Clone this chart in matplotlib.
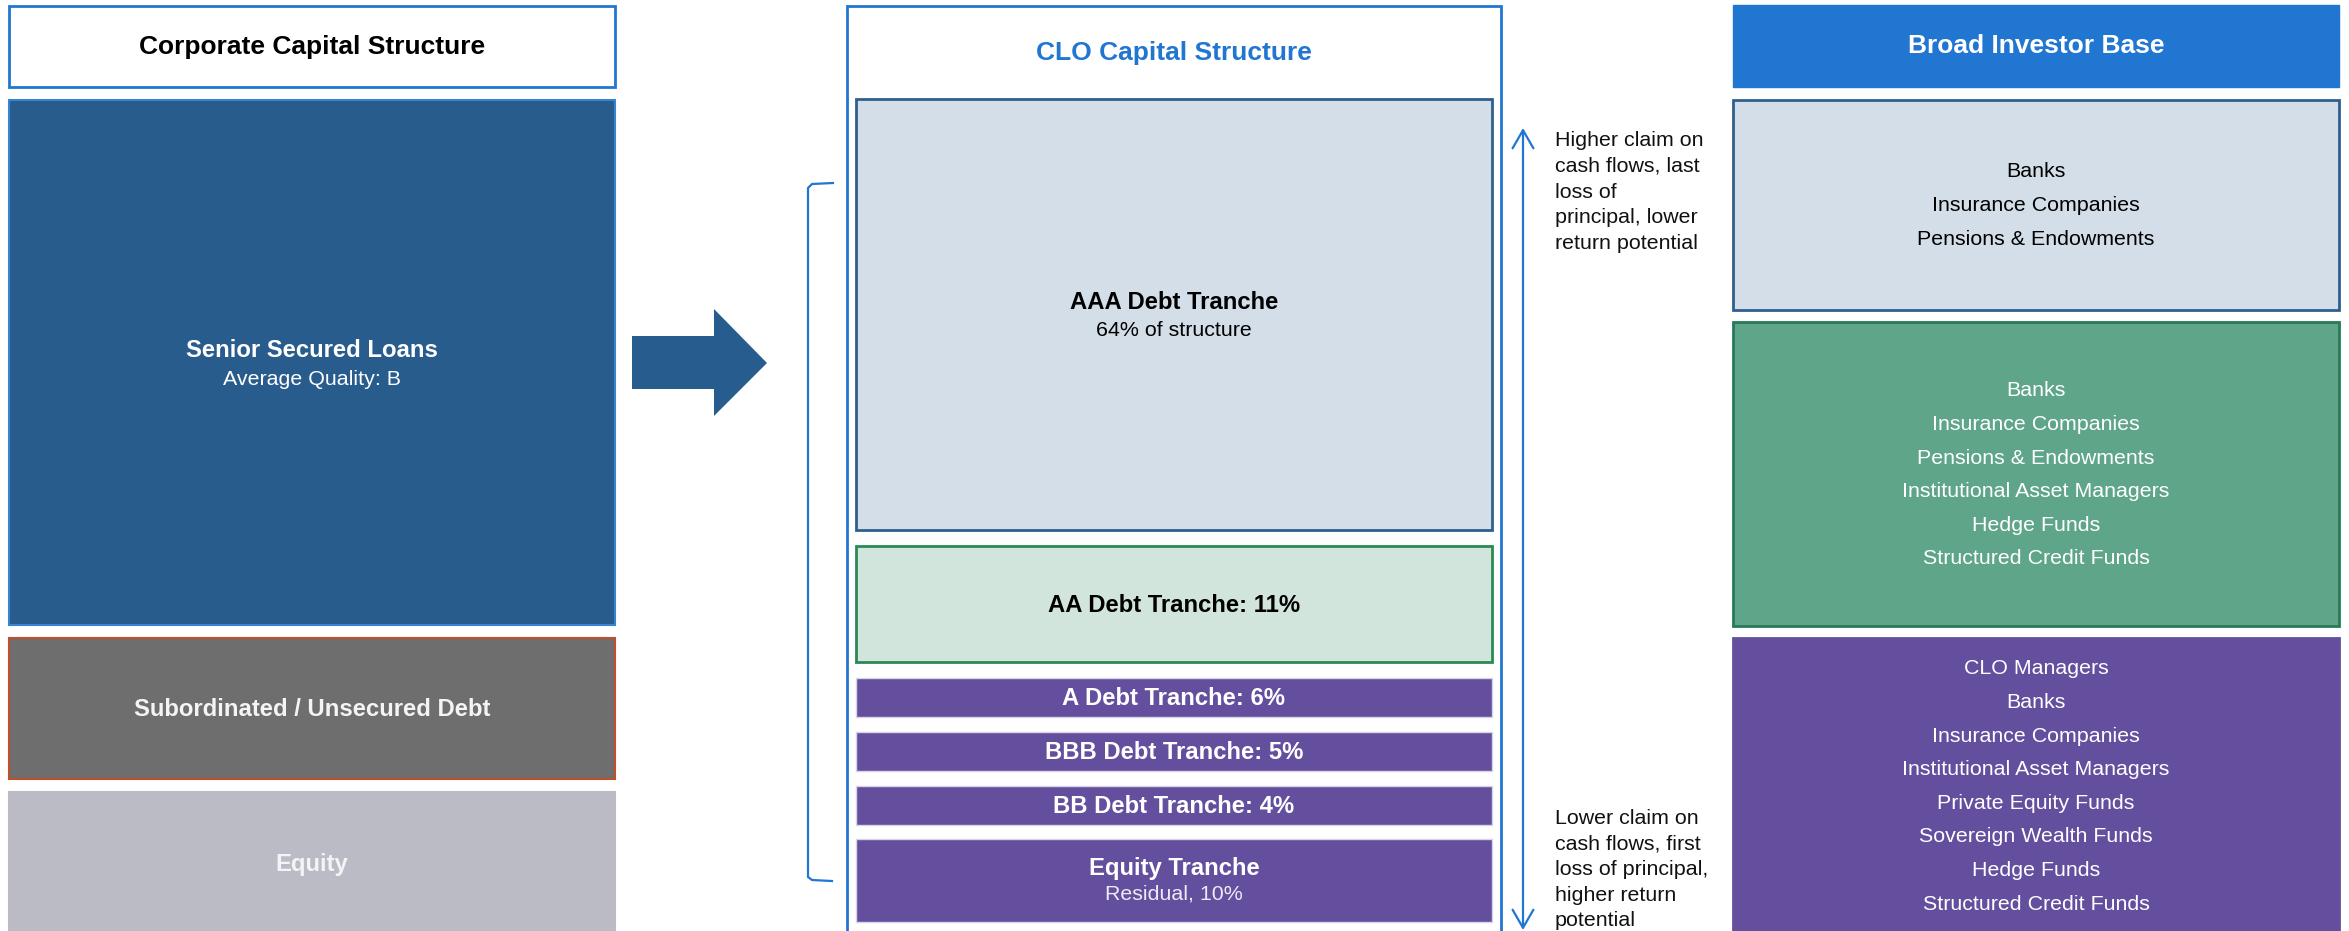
import matplotlib.pyplot as plt
from matplotlib.patches import Rectangle, Polygon

plt.rcParams['font.family'] = ['Liberation Sans', 'DejaVu Sans']

# --- data ---
corp_title = 'Corporate Capital Structure'
corp_layers = ['Senior Secured Loans', 'Subordinated / Unsecured Debt', 'Equity']
corp_notes = ['Average Quality: B', '', '']

clo_title = 'CLO Capital Structure'
tranche_names = ['AAA Debt Tranche', 'AA Debt Tranche', 'A Debt Tranche',
                 'BBB Debt Tranche', 'BB Debt Tranche', 'Equity Tranche']
tranche_pct = [64, 11, 6, 5, 4, 10]

investor_title = 'Broad Investor Base'
investors_senior = ['Banks', 'Insurance Companies', 'Pensions & Endowments']
investors_mezz = ['Banks', 'Insurance Companies', 'Pensions & Endowments',
                  'Institutional Asset Managers', 'Hedge Funds', 'Structured Credit Funds']
investors_junior = ['CLO Managers', 'Banks', 'Insurance Companies',
                    'Institutional Asset Managers', 'Private Equity Funds',
                    'Sovereign Wealth Funds', 'Hedge Funds', 'Structured Credit Funds']

top_note = ['Higher claim on', 'cash flows, last', 'loss of',
            'principal, lower', 'return potential']
bottom_note = ['Lower claim on', 'cash flows, first', 'loss of principal,',
               'higher return', 'potential']

# --- layout (pixel space, y down) ---
W, H = 2349, 931
BLUE = '#2176d2'
PURPLE = '#644e9e'

fig = plt.figure(figsize=(W / 100, H / 100), dpi=100)
ax = fig.add_axes([0, 0, 1, 1])
ax.set_xlim(0, W)
ax.set_ylim(H, 0)
ax.axis('off')

BIG = 19      # titles
LAB = 17.2    # bold box labels
TXT = 15.4    # regular text


def box(x0, x1, y0, y1, fc, ec, lw=1.5, z=2):
    ax.add_patch(Rectangle((x0, y0), x1 - x0, y1 - y0, facecolor=fc,
                           edgecolor=ec, linewidth=lw, zorder=z))


def stacked_lines(lines, cx, cy, step, color, size, ha='center'):
    n = len(lines)
    for i, s in enumerate(lines):
        ax.text(cx, cy + (i - (n - 1) / 2) * step, s, ha=ha, va='center',
                color=color, fontsize=size, zorder=5)


# left column: corporate capital structure
LX0, LX1 = 9, 615
lcx = (LX0 + LX1) / 2
box(LX0, LX1, 6, 87, 'white', BLUE, lw=2)
ax.text(lcx, 47, corp_title, ha='center', va='center', fontsize=BIG,
        fontweight='bold', color='black')

corp_spans = [(100, 625), (638, 779), (792, 945)]
corp_fc = ['#285c8d', '#6e6e6e', '#bbbbc6']
corp_ec = ['#3a82d4', '#c0502a', '#bbbbc6']
for name, note, (y0, y1), fc, ec in zip(corp_layers, corp_notes, corp_spans, corp_fc, corp_ec):
    box(LX0, LX1, y0, y1, fc, ec, lw=1.5)
    cy = (y0 + y1) / 2
    if note:
        ax.text(lcx, cy - 12, name, ha='center', va='center', fontsize=LAB,
                fontweight='bold', color='white', zorder=5)
        ax.text(lcx, cy + 17, note, ha='center', va='center', fontsize=TXT,
                color='white', zorder=5)
    else:
        ax.text(lcx, cy + 1 if y1 < 900 else 864, name, ha='center', va='center',
                fontsize=LAB, fontweight='bold', color='#f4f4f6', zorder=5)

# block arrow
ax.add_patch(Polygon([(632, 336), (714, 336), (714, 309), (767, 363),
                      (714, 416), (714, 389), (632, 389)],
                     closed=True, facecolor='#275d8e', edgecolor='none', zorder=2))

# middle column: CLO capital structure
CX0, CX1 = 847, 1501
TX0, TX1 = 856, 1492
ccx = (CX0 + CX1) / 2
box(CX0, CX1, 6, 945, 'white', BLUE, lw=2, z=1)
ax.text(ccx, 53, clo_title, ha='center', va='center', fontsize=BIG,
        fontweight='bold', color=BLUE)

tranche_spans = [(99, 530), (546, 662), (678, 717), (732, 771), (786, 825), (839, 922)]
tranche_fc = ['#d4dee8', '#d2e5dc', PURPLE, PURPLE, PURPLE, PURPLE]
tranche_ec = ['#2f5f8f', '#2a8a55', '#d8d2ea', '#d8d2ea', '#d8d2ea', '#d8d2ea']
for i, (name, pct, (y0, y1), fc, ec) in enumerate(zip(tranche_names, tranche_pct,
                                                      tranche_spans, tranche_fc, tranche_ec)):
    box(TX0, TX1, y0, y1, fc, ec, lw=2 if i < 2 else 1)
    cy = (y0 + y1) / 2
    tc = 'black' if i < 2 else 'white'
    if i == 0:
        ax.text(ccx, cy - 12, name, ha='center', va='center', fontsize=LAB,
                fontweight='bold', color=tc, zorder=5)
        ax.text(ccx, cy + 16, f'{pct}% of structure', ha='center', va='center',
                fontsize=TXT, color=tc, zorder=5)
    elif name == 'Equity Tranche':
        ax.text(ccx, cy - 12, name, ha='center', va='center', fontsize=LAB,
                fontweight='bold', color=tc, zorder=5)
        ax.text(ccx, cy + 14, f'Residual, {pct}%', ha='center', va='center',
                fontsize=TXT, color='#eeeaf6', zorder=5)
    else:
        ax.text(ccx, cy + 1, f'{name}: {pct}%', ha='center', va='center',
                fontsize=LAB, fontweight='bold', color=tc, zorder=5)

# bracket on the left of the CLO box
ax.plot([833, 812, 808, 808, 812, 832], [183, 184, 188, 877, 880, 881],
        color=BLUE, lw=1.6, solid_joinstyle='round', zorder=3)

# seniority double arrow and notes
ax.annotate('', xy=(1523, 128), xytext=(1523, 930),
            arrowprops=dict(arrowstyle='<->,head_length=1.3,head_width=0.75',
                            color=BLUE, lw=1.6, shrinkA=0, shrinkB=0))
stacked_lines(top_note, 1555, 140.5 + 2 * 25.8, 25.8, '#111111', TXT, ha='left')
stacked_lines(bottom_note, 1555, 819 + 2 * 25.4, 25.4, '#111111', TXT, ha='left')

# right column: investor base
RX0, RX1 = 1733, 2339
rcx = (RX0 + RX1) / 2
box(RX0, RX1, 5, 87, BLUE, BLUE, lw=1)
ax.text(rcx, 46, investor_title, ha='center', va='center', fontsize=BIG,
        fontweight='bold', color='white', zorder=5)

inv_groups = [investors_senior, investors_mezz, investors_junior]
inv_spans = [(100, 310), (322, 626), (638, 945)]
inv_fc = ['#d4dee8', '#5ea58a', PURPLE]
inv_ec = ['#2f5f8f', '#267a57', PURPLE]
inv_tc = ['black', 'white', 'white']
inv_cy = [205.5, 475, 786.5]
for group, (y0, y1), fc, ec, tc, cy in zip(inv_groups, inv_spans, inv_fc, inv_ec, inv_tc, inv_cy):
    box(RX0, RX1, y0, y1, fc, ec, lw=2)
    stacked_lines(group, rcx, cy, 33.6, tc, TXT)

fig.savefig('out.png', dpi=100)
